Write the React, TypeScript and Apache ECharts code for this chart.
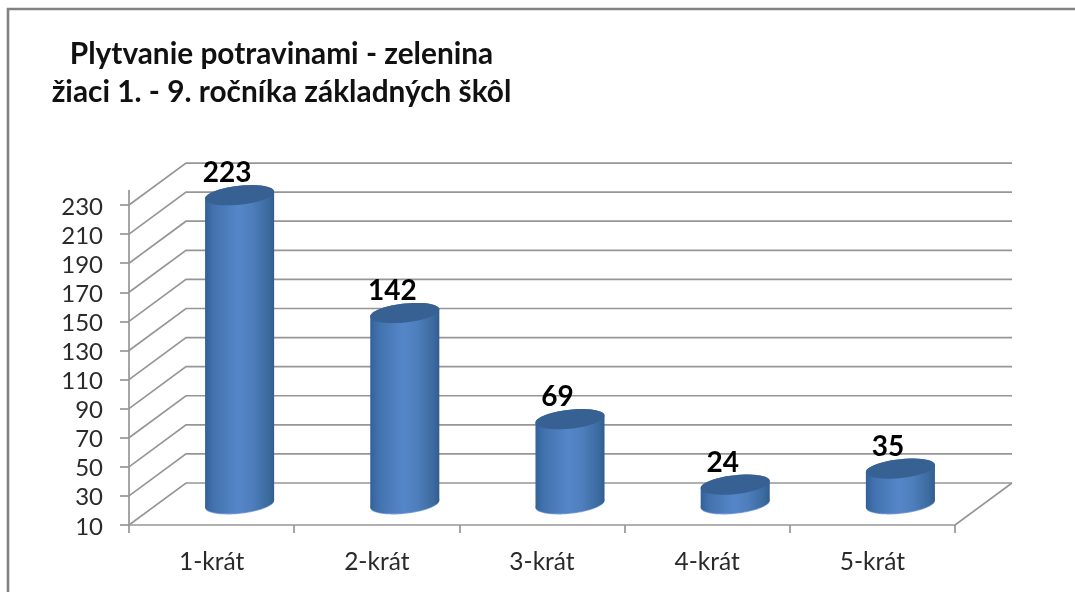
import React, { useEffect, useRef } from "react";
import * as echarts from "echarts";

const titleLines = ["Plytvanie potravinami - zelenina", "žiaci 1. - 9. ročníka základných škôl"];
const categories = ["1-krát", "2-krát", "3-krát", "4-krát", "5-krát"];
const values = [223, 142, 69, 24, 35];
const tickValues = [10, 30, 50, 70, 90, 110, 130, 150, 170, 190, 210, 230];
const axisMin = 10;
const axisMax = 240;

const FONT = "Lato";
const LINE = "#969696";
const DEPTH_X = 57;
const DEPTH_Y = 42;

function ellipsePoints(cx: number, cy: number, rx: number, ry: number, shear: number, from: number, to: number) {
  const pts: number[][] = [];
  const n = 48;
  for (let i = 0; i <= n; i++) {
    const t = from + ((to - from) * i) / n;
    pts.push([cx + rx * Math.cos(t), cy + ry * Math.sin(t) - shear * Math.cos(t)]);
  }
  return pts;
}

function renderWall(params: any, api: any) {
  const v = api.value(1);
  const cs = params.coordSys;
  const y = api.coord([0, v])[1];
  const x0 = cs.x;
  const x1 = cs.x + cs.width;
  const style = { stroke: LINE, lineWidth: 1.7, fill: "none" };
  const children: any[] = [
    {
      type: "polyline",
      shape: { points: [[x0, y], [x0 + DEPTH_X, y - DEPTH_Y], [x1 + DEPTH_X, y - DEPTH_Y]] },
      style,
    },
  ];
  if (v === axisMin) {
    children.push({
      type: "line",
      shape: { x1: x1 + DEPTH_X, y1: y - DEPTH_Y, x2: x1, y2: y },
      style,
    });
  }
  return { type: "group", children };
}

function renderCylinder(params: any, api: any) {
  const idx = api.value(0);
  const v = api.value(1);
  const center = api.coord([idx, v]);
  const base = api.coord([idx, axisMin]);
  const band = api.size([1, 0])[0];
  const cx = center[0] + 28;
  const topY = center[1] - DEPTH_Y / 2 + 1;
  const baseY = base[1] - DEPTH_Y / 2 - 0.5;
  const rx = band * 0.209;
  const ry = 9.5;
  const shear = 3.5;
  const bottomArc = ellipsePoints(cx, baseY, rx, ry, shear, 0, Math.PI);
  const topArc = ellipsePoints(cx, topY, rx, ry, shear, Math.PI, 2 * Math.PI);
  const body = bottomArc.concat(topArc);
  const top = ellipsePoints(cx, topY, rx, ry, shear, 0, 2 * Math.PI);
  const rim = ellipsePoints(cx, baseY + 0.8, rx, ry, shear, 0, Math.PI);
  const rimTop = ellipsePoints(cx, baseY - 2, rx, ry, shear, Math.PI, 0);
  const gradient = new echarts.graphic.LinearGradient(0, 0, 1, 0, [
    { offset: 0, color: "#33609a" },
    { offset: 0.12, color: "#4272ae" },
    { offset: 0.48, color: "#5586c8" },
    { offset: 0.68, color: "#4e7ebc" },
    { offset: 0.92, color: "#3b6a9e" },
    { offset: 1, color: "#335c90" },
  ]);
  return {
    type: "group",
    children: [
      { type: "polygon", shape: { points: rim.concat(rimTop) }, style: { fill: "#7ea3d8" } },
      { type: "polygon", shape: { points: body }, style: { fill: gradient } },
      { type: "polygon", shape: { points: top }, style: { fill: "#376093" } },
      {
        type: "text",
        x: cx - 12.5,
        y: topY - 24,
        style: {
          text: String(v),
          font: `bold 28px ${FONT}`,
          fill: "#000",
          align: "center",
          verticalAlign: "middle",
        },
      },
    ],
  };
}

export default function App() {
  const ref = useRef<HTMLDivElement>(null);
  useEffect(() => {
    document.body.style.margin = "0";
    const chart = echarts.init(ref.current!, null, { renderer: "svg" });
    chart.setOption({
      animation: false,
      backgroundColor: "#fff",
      grid: { left: 129, right: 120, top: 190.5, bottom: 67, containLabel: false },
      title: {
        text: titleLines.join("\n"),
        left: 276.5,
        top: 28,
        textAlign: "center",
        textStyle: { fontFamily: FONT, fontSize: 29.8, fontWeight: "bold", color: "#111", lineHeight: 38 },
      },
      graphic: [
        { type: "polyline", shape: { points: [[8, 592], [8, 9], [1075, 9]] }, style: { stroke: "#828282", lineWidth: 2.6, fill: "none" }, silent: true },
      ],
      xAxis: {
        type: "category",
        data: categories,
        boundaryGap: true,
        axisLine: { show: true, lineStyle: { color: LINE, width: 1.7 } },
        axisTick: { show: true, length: 8, alignWithLabel: false, lineStyle: { color: LINE, width: 1.7 } },
        axisLabel: { fontFamily: FONT, fontSize: 24.5, color: "#2a2a2a", margin: 23 },
        splitLine: { show: false },
      },
      yAxis: {
        type: "value",
        min: axisMin,
        max: axisMax,
        axisLine: { show: true, lineStyle: { color: LINE, width: 1.7 } },
        axisTick: { show: true, length: 9, customValues: tickValues, lineStyle: { color: LINE, width: 1.7 } },
        axisLabel: { customValues: tickValues, fontFamily: FONT, fontSize: 24, color: "#2a2a2a", margin: 26 },
        splitLine: { show: false },
      },
      series: [
        {
          type: "custom",
          silent: true,
          z: 1,
          renderItem: renderWall,
          encode: { x: 0, y: 1 },
          data: tickValues.map((v) => [0, v]),
        },
        {
          type: "custom",
          silent: true,
          z: 3,
          renderItem: renderCylinder,
          encode: { x: 0, y: 1 },
          data: values.map((v, i) => [i, v]),
        },
      ],
    });
    return () => chart.dispose();
  }, []);
  return <div ref={ref} style={{ position: "absolute", left: 0, top: 0, width: 1075, height: 592, filter: "blur(0.6px)" }} />;
}
